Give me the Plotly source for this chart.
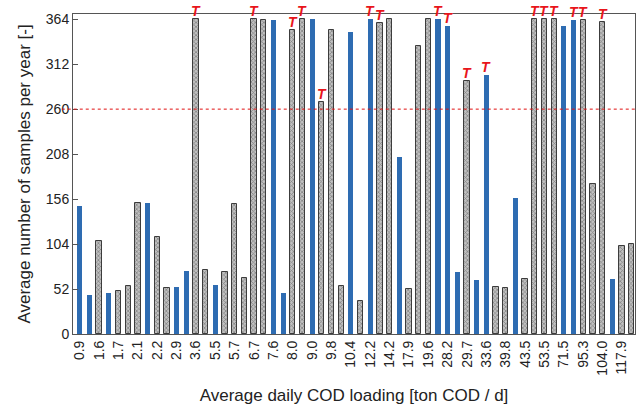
import plotly.graph_objects as go

# Tick labels: average daily COD loading [ton COD/d] (every other bar is labelled)
cod_labels = ["0.9", "1.6", "1.7", "2.1", "2.2", "2.9", "3.6", "5.5", "5.7", "6.7",
              "7.6", "8.0", "9.0", "9.8", "10.4", "12.2", "14.2", "17.9", "19.6", "28.2",
              "29.7", "33.6", "39.8", "43.5", "53.5", "71.5", "95.3", "104.0", "117.9"]

# Average number of samples per year for each plant (58 plants, sorted by loading)
samples = [148, 45, 108, 47, 50, 56, 152, 152, 112, 53,
           54, 73, 364, 74, 57, 72, 150, 65, 364, 363,
           363, 47, 352, 364, 364, 268, 352, 55, 349, 38,
           364, 360, 364, 205, 52, 333, 364, 364, 356, 72,
           293, 62, 300, 54, 53, 157, 64, 364, 364, 364,
           356, 363, 363, 174, 361, 64, 102, 104]

# Plant type: "B" = solid blue bars, "H" = hatched grey bars
plant_type = ["B", "B", "H", "B", "H", "H", "H", "B", "H", "H",
              "B", "B", "H", "H", "B", "H", "H", "H", "H", "H",
              "B", "B", "H", "H", "B", "H", "H", "H", "B", "H",
              "B", "H", "H", "B", "H", "H", "H", "B", "B", "B",
              "H", "B", "B", "H", "H", "B", "H", "H", "H", "H",
              "B", "B", "H", "H", "H", "B", "H", "H"]

# Plants marked with a red "T"
t_mark = [0, 0, 0, 0, 0, 0, 0, 0, 0, 0,
          0, 0, 1, 0, 0, 0, 0, 0, 1, 0,
          0, 0, 1, 1, 0, 1, 0, 0, 0, 0,
          1, 1, 0, 0, 0, 0, 0, 1, 1, 0,
          1, 0, 1, 0, 0, 0, 0, 1, 1, 1,
          0, 1, 1, 0, 1, 0, 0, 0]

threshold = 260
y_ticks = [0, 52, 104, 156, 208, 260, 312, 364]

idx = list(range(len(samples)))
blue_y = [v if t == "B" else None for v, t in zip(samples, plant_type)]
hatch_y = [v if t == "H" else None for v, t in zip(samples, plant_type)]

fig = go.Figure()
fig.add_trace(go.Bar(
    x=idx, y=blue_y, width=0.52,
    marker=dict(color="#2e6cb2", line=dict(width=0)),
    showlegend=False))
fig.add_trace(go.Bar(
    x=idx, y=hatch_y, width=0.55,
    marker=dict(color="#b8b8b8",
                line=dict(color="#3c3c3c", width=1),
                pattern=dict(shape="x", size=3, solidity=0.45,
                             fgcolor="#454545", bgcolor="#c0c0c0")),
    showlegend=False))

for i in idx:
    if t_mark[i]:
        fig.add_annotation(
            x=i, y=samples[i], xref="x", yref="y",
            text="<b><i>T</i></b>", showarrow=False,
            yanchor="bottom", yshift=-1, borderpad=0,
            font=dict(color="#e8151b", size=14, family="Liberation Sans, Arial"))

fig.add_shape(type="line", xref="paper", yref="y", x0=-0.02, x1=1,
              y0=threshold, y1=threshold,
              line=dict(color="#e01010", width=1, dash="dot"))

fig.update_layout(
    width=637, height=409,
    margin=dict(l=73, r=2, t=14, b=75),
    plot_bgcolor="white", paper_bgcolor="white",
    barmode="overlay", bargap=0,
    font=dict(family="Liberation Sans, Arial", color="#222222"),
)
fig.update_xaxes(
    range=[-0.7, 57.35],
    tickmode="array", tickvals=idx[::2], ticktext=cod_labels,
    tickangle=-90, tickfont=dict(size=14),
    ticks="", showgrid=False, zeroline=False,
    showline=True, linecolor="#555555", linewidth=1, mirror=True,
    title=dict(text="Average daily COD loading [ton COD / d]",
               font=dict(size=17), standoff=14))
fig.update_yaxes(
    range=[0, 370],
    tickmode="array", tickvals=y_ticks,
    tickfont=dict(size=14),
    ticks="inside", ticklen=5, tickcolor="#555555",
    showgrid=False, zeroline=False,
    showline=True, linecolor="#555555", linewidth=1, mirror=True,
    title=dict(text="Average number of samples per year [-]",
               font=dict(size=17), standoff=10))

fig.write_html("out.html",
               config={"displayModeBar": False},
               post_script="document.body.style.margin='0';document.body.style.overflow='hidden';")
